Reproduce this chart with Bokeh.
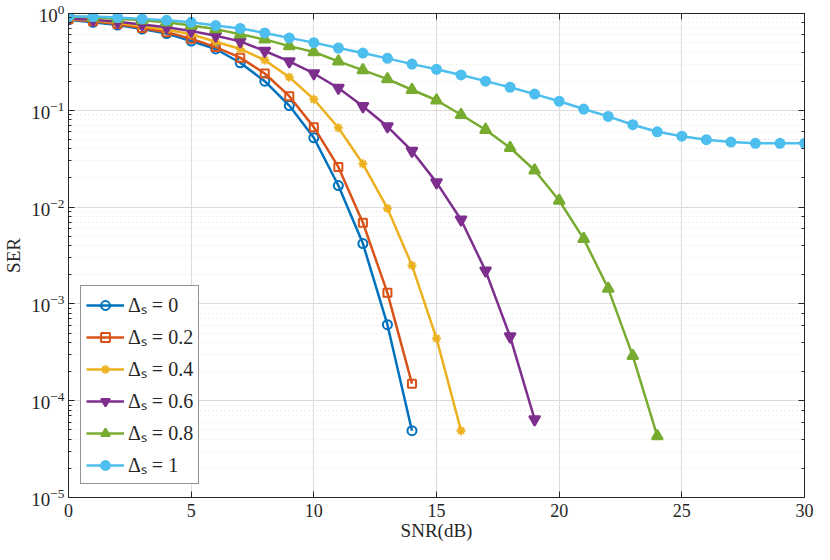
from bokeh.plotting import figure
from bokeh.models import (LogAxis, LinearAxis, Legend, LegendItem, FixedTicker, Range1d,
                          CustomJSTickFormatter)
from bokeh.embed import file_html
from bokeh.resources import INLINE

snr = list(range(0, 31))
x_ticks = [0, 5, 10, 15, 20, 25, 30]

ser_d0 = [0.86, 0.81, 0.76, 0.69, 0.62, 0.52, 0.43, 0.31, 0.20, 0.112, 0.052,
          0.0167, 0.0042, 6.1e-4, 4.9e-5]
ser_d02 = [0.87, 0.83, 0.78, 0.71, 0.64, 0.55, 0.45, 0.35, 0.24, 0.14, 0.067,
           0.026, 0.0069, 1.3e-3, 1.5e-4]
ser_d04 = [0.88, 0.85, 0.80, 0.74, 0.68, 0.61, 0.51, 0.43, 0.33, 0.22, 0.13,
           0.066, 0.028, 0.0097, 2.5e-3, 4.4e-4, 4.9e-5]
ser_d06 = [0.89, 0.86, 0.82, 0.77, 0.72, 0.66, 0.59, 0.515, 0.41, 0.32, 0.24,
           0.17, 0.11, 0.068, 0.038, 0.018, 0.0074, 0.0022, 4.6e-4, 6.4e-5]
ser_d08 = [0.94, 0.91, 0.88, 0.85, 0.81, 0.75, 0.69, 0.61, 0.54, 0.46, 0.40,
           0.32, 0.26, 0.21, 0.163, 0.127, 0.09, 0.063, 0.041, 0.024, 0.0117,
           0.0047, 1.44e-3, 2.9e-4, 4.3e-5]
ser_d1 = [0.93, 0.93, 0.91, 0.88, 0.85, 0.81, 0.75, 0.70, 0.63, 0.56, 0.50,
          0.44, 0.39, 0.344, 0.30, 0.265, 0.232, 0.20, 0.173, 0.147, 0.124,
          0.103, 0.0865, 0.071, 0.060, 0.054, 0.0497, 0.047, 0.0456, 0.0456,
          0.0456]

labels = ["Δₛ = 0", "Δₛ = 0.2", "Δₛ = 0.4", "Δₛ = 0.6", "Δₛ = 0.8", "Δₛ = 1"]
series = [ser_d0, ser_d02, ser_d04, ser_d06, ser_d08, ser_d1]
colors = ["#0072BD", "#D95319", "#EDB120", "#7E2F8E", "#77AC30", "#4DBEEE"]
markers = ["circle", "square", "asterisk", "inverted_triangle", "triangle", "circle"]
sizes = [9, 8, 9, 11, 11, 9]
filled = [False, False, False, True, True, True]

FONT = "Liberation Serif"
AX = "#262626"

p = figure(width=814, height=544, y_axis_type="log",
           x_range=Range1d(0, 30), y_range=Range1d(1e-5, 1),
           output_backend="svg", toolbar_location=None,
           min_border_left=68, min_border_right=10, min_border_top=13,
           min_border_bottom=47)
p.outline_line_color = AX
p.background_fill_color = "white"

p.xaxis.ticker = FixedTicker(ticks=x_ticks)
for ax in [p.xaxis[0], p.yaxis[0]]:
    ax.axis_line_color = AX
    ax.major_tick_line_color = AX
    ax.minor_tick_line_color = AX
    ax.major_tick_in = 6
    ax.major_tick_out = 0
    ax.minor_tick_in = 3
    ax.minor_tick_out = 0
    ax.major_label_text_font = FONT
    ax.major_label_text_color = AX
    ax.axis_label_text_font = FONT
    ax.axis_label_text_font_size = "19px"
    ax.axis_label_text_font_style = "normal"
    ax.axis_label_text_color = AX
p.xaxis.major_label_text_font_size = "18px"
p.yaxis.major_label_text_font_size = "19px"
p.xaxis.minor_tick_line_color = None
p.xaxis.axis_label = "SNR(dB)"
p.yaxis.axis_label = "SER"
p.xaxis.axis_label_standoff = 0
p.yaxis.axis_label_standoff = 4
p.xaxis.major_label_standoff = 6
p.yaxis.major_label_standoff = 4

top = LinearAxis(ticker=FixedTicker(ticks=x_ticks), formatter=CustomJSTickFormatter(code="return ''"),
                 major_tick_in=6, major_tick_out=0, minor_tick_line_color=None,
                 axis_line_color=AX, major_tick_line_color=AX, major_label_standoff=0)
right = LogAxis(formatter=CustomJSTickFormatter(code="return ''"),
                major_tick_in=6, major_tick_out=0,
                minor_tick_in=3, minor_tick_out=0, axis_line_color=AX,
                major_tick_line_color=AX, minor_tick_line_color=AX,
                major_label_standoff=0)
p.add_layout(top, "above")
p.add_layout(right, "right")

p.xgrid.grid_line_color = "#dcdcdc"
p.ygrid.grid_line_color = "#dcdcdc"
p.ygrid.minor_grid_line_color = "#dedede"
p.ygrid.minor_grid_line_dash = "1 3"

items = []
for lab, ys, c, m, s, f in zip(labels, series, colors, markers, sizes, filled):
    xs = snr[:len(ys)]
    lr = p.line(xs, ys, line_color=c, line_width=2.5)
    sr = p.scatter(xs, ys, marker=m, size=s, line_color=c, line_width=2,
                   fill_color=c if f else None)
    items.append(LegendItem(label=lab, renderers=[lr, sr]))

legend = Legend(items=items, location=(12, 13), label_text_font=FONT,
                label_text_font_size="20px", label_text_color=AX,
                border_line_color=AX, border_line_width=1,
                background_fill_color="white", background_fill_alpha=1,
                glyph_width=38, glyph_height=22, label_height=22,
                spacing=5, padding=5, margin=0, label_standoff=4)
p.add_layout(legend, "center")

open("out.html", "w").write(file_html(p, INLINE))
